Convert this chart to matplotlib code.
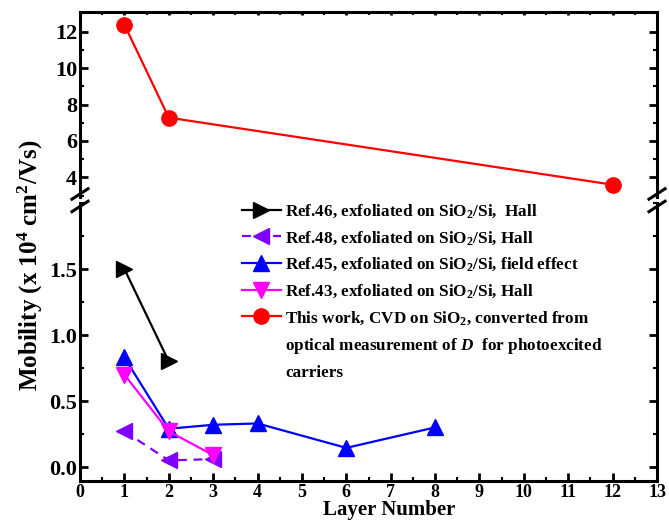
import numpy as np
import matplotlib
matplotlib.use('Agg')
import matplotlib.pyplot as plt
from matplotlib.ticker import MultipleLocator

plt.rcParams['font.family'] = 'Liberation Serif'
plt.rcParams['font.weight'] = 'bold'
plt.rcParams['mathtext.fontset'] = 'custom'
plt.rcParams['mathtext.rm'] = 'Liberation Serif:bold'
plt.rcParams['mathtext.bf'] = 'Liberation Serif:bold'
plt.rcParams['mathtext.it'] = 'Liberation Serif:italic:bold'
plt.rcParams['mathtext.default'] = 'bf'

# data
ref46_x = [1, 2]
ref46_y = [1.50, 0.80]
ref48_x = [1, 2, 3]
ref48_y = [0.27, 0.05, 0.06]
ref45_x = [1, 2, 3, 4, 6, 8]
ref45_y = [0.83, 0.29, 0.32, 0.33, 0.145, 0.30]
ref43_x = [1, 2, 3]
ref43_y = [0.70, 0.27, 0.09]
work_x = [1, 2, 12]
work_y = [12.38, 7.28, 3.60]

labels = ['Ref.46, exfoliated on SiO$_2$/Si,  Hall',
          'Ref.48, exfoliated on SiO$_2$/Si, Hall',
          'Ref.45, exfoliated on SiO$_2$/Si, field effect',
          'Ref.43, exfoliated on SiO$_2$/Si, Hall',
          'This work, CVD on SiO$_2$, converted from',
          'optical measurement of $\\mathit{D}$  for photoexcited',
          'carriers']

fig = plt.figure(figsize=(6.69, 5.2), dpi=100)
ax_top = fig.add_axes([0.1196, 0.621, 0.8625, 0.356])
ax_bot = fig.add_axes([0.1196, 0.075, 0.8625, 0.5346])

lw = 1.6
h1, = ax_bot.plot(ref46_x, ref46_y, color='black', marker='>', ms=12, lw=lw)
h2, = ax_bot.plot(ref48_x, ref48_y, color='#8000FF', marker='<', ms=12, lw=lw, ls=(0, (4, 3)))
h3, = ax_bot.plot(ref45_x, ref45_y, color='#0000FF', marker='^', ms=12, lw=lw)
h4, = ax_bot.plot(ref43_x, ref43_y, color='#FF00FF', marker='v', ms=12, lw=lw)
h5, = ax_top.plot(work_x, work_y, color='#FF0000', marker='o', ms=11, lw=lw)
blank1 = plt.Line2D([], [], color='none')
blank2 = plt.Line2D([], [], color='none')

ax_top.set_xlim(0, 13)
ax_bot.set_xlim(0, 13)
ax_top.set_ylim(2.92, 13.08)
ax_bot.set_ylim(-0.106, 2.0)

ax_top.spines['bottom'].set_visible(False)
ax_bot.spines['top'].set_visible(False)
for ax in (ax_top, ax_bot):
    for s in ax.spines.values():
        s.set_linewidth(2.2)
    ax.xaxis.set_major_locator(MultipleLocator(1))
    ax.xaxis.set_minor_locator(MultipleLocator(0.5))
    ax.tick_params(which='major', direction='in', length=6, width=2, right=True)
    ax.tick_params(which='minor', direction='in', length=3, width=1.5, right=True)

ax_top.tick_params(axis='x', which='both', bottom=False, labelbottom=False, top=True, length=2)
ax_top.yaxis.set_minor_locator(MultipleLocator(1))
ax_top.set_yticks([4, 6, 8, 10, 12])
ax_top.tick_params(axis='y', labelsize=16, pad=2)

ax_bot.set_yticks([0.0, 0.5, 1.0, 1.5])
ax_bot.yaxis.set_minor_locator(MultipleLocator(0.25))
ax_bot.set_yticklabels(['0.0', '0.5', '1.0', '1.5'])
ax_bot.tick_params(axis='y', labelsize=16, pad=2)
ax_bot.tick_params(axis='x', labelsize=13, pad=2)
ax_bot.set_xticks(range(0, 14))

fig.text(0.5815, 0.0, 'Layer Number', fontsize=15, fontweight='bold',
         ha='center', va='bottom')
fig.text(0.045, 0.49, 'Mobility (x 10$^4$ cm$^2$/Vs)', rotation=90, fontsize=18,
         ha='center', va='center')

# break marks
for x in (0, 1):
    for dy in (-0.012, 0.012):
        fig.lines.append(plt.Line2D([0.1196 + x * 0.8625 - 0.012, 0.1196 + x * 0.8625 + 0.012],
                                    [0.615 + dy - 0.01, 0.615 + dy + 0.01],
                                    transform=fig.transFigure, color='black', lw=2.2))

leg = fig.legend([h1, h2, h3, h4, h5, blank1, blank2], labels, loc='upper left',
                 bbox_to_anchor=(0.361, 0.611), frameon=False, fontsize=12.3,
                 numpoints=1, handlelength=2.3, handletextpad=0.25,
                 labelspacing=0.52, borderpad=0, borderaxespad=0)

fig.savefig('out.png', dpi=100)
